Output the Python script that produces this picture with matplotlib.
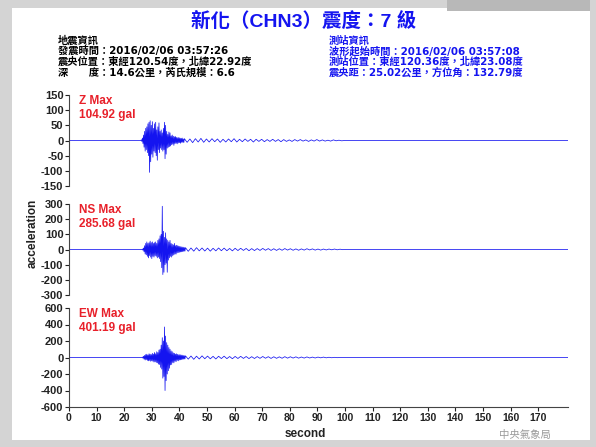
import numpy as np
import matplotlib.pyplot as plt
from matplotlib.patches import Rectangle

plt.rcParams['axes.unicode_minus'] = False

# strong-motion part, sampled every 0.2 s
z_t0 = 26.0
z_strong = [0, 2, -3, 8, -10, 18, -22, 30, -35, 40,
            -30, 45, -40, 55, -50, 60, -105, 65, -70, 50,
            -45, 62, -55, 40, -35, 55, -40, 60, -50, 35,
            -65, 45, -30, 58, -40, 30, -25, 35, -30, 25,
            -35, 40, -30, 60, -60, 50, -45, 30, -25, 20,
            -22, 28, -20, 25, -18, 15, -14, 18, -12, 14,
            -16, 12, -10, 13, -9, 10, -11, 9, -8, 10,
            -7, 8, -9, 7, -6, 8, -6, 5, -7, 6]
# coda, sampled every 1 s
z_coda = [-6, 5, -7, 6, -5, 7, -6, 5, -5, 6, -4, 5, -6, 4, -5, 5, -4, 6, -5, 4,
          -4, 5, -3, 4, -5, 4, -3, 4, -4, 3, -3, 4, -3, 3, -4, 3, -3, 2, -3, 3,
          -2, 3, -2, 2, -3, 2, -2, 3, -2, 2, -2, 1, -2, 2, -1, 1, -1, 0]

ns_t0 = 26.4
ns_strong = [0, 3, -5, 10, -15, 25, -30, 40, -35, 50,
             -45, 40, -55, 45, -40, 55, -50, 45, -60, 50,
             -45, 40, -50, 45, -40, 50, -45, 40, -55, 60,
             -50, 70, -60, 90, -80, 100, -120, 285, -165, 120,
             -150, 80, -100, 110, -90, 70, -150, 60, -70, 50,
             -55, 60, -45, 40, -50, 35, -40, 30, -35, 40,
             -30, 25, -30, 28, -22, 25, -20, 22, -18, 20,
             -16, 18, -15, 16, -14, 15, -12, 13, -11, 12]
ns_coda = [-12, 10, -11, 12, -9, 10, -10, 9, -11, 8, -9, 10, -8, 9, -8, 7, -9, 8, -7, 8,
           -6, 7, -8, 6, -7, 6, -6, 7, -5, 6, -6, 5, -6, 5, -5, 6, -4, 5, -5, 4,
           -5, 4, -4, 5, -3, 4, -4, 3, -4, 3, -3, 3, -2, 3, -2, 2, -1, 0]

ew_t0 = 26.4
ew_strong = [0, 5, -8, 15, -20, 25, -30, 35, -25, 40,
             -35, 30, -40, 45, -35, 40, -45, 35, -40, 50,
             -45, 40, -55, 60, -50, 45, -60, 70, -65, 60,
             -80, 90, -85, 100, -120, 150, -140, 240, -250, 200,
             -230, 370, -400, 260, -280, 180, -200, 150, -160, 120,
             -130, 100, -90, 80, -85, 70, -60, 55, -65, 50,
             -45, 40, -50, 45, -35, 38, -40, 32, -30, 35,
             -28, 30, -25, 28, -22, 25, -20, 22, -18, 20]
ew_coda = [-20, 18, -22, 16, -18, 20, -15, 17, -16, 14, -18, 15, -13, 16, -14, 12, -15, 13, -12, 14,
           -11, 12, -13, 10, -12, 11, -10, 12, -9, 10, -11, 9, -10, 8, -9, 10, -8, 9, -7, 8,
           -8, 6, -7, 7, -6, 5, -6, 5, -4, 5, -4, 3, -3, 2, -2, 0]

names = ['Z', 'NS', 'EW']
max_vals = ['104.92', '285.68', '401.19']
ylims = [150, 300, 600]
ysteps = [50, 100, 200]
xticks = list(range(0, 180, 10))
x_end = 180.8


def trace(t0, strong, coda):
    ts = t0 + 0.2 * np.arange(len(strong))
    tc = ts[-1] + 1.0 * np.arange(1, len(coda) + 1)
    t = np.concatenate([[0.0], ts, tc, [x_end]])
    v = np.concatenate([[0.0], strong, coda, [0.0]])
    return t, v


traces = [trace(z_t0, z_strong, z_coda),
          trace(ns_t0, ns_strong, ns_coda),
          trace(ew_t0, ew_strong, ew_coda)]

W, H = 596, 447
fig = plt.figure(figsize=(W / 100, H / 100), dpi=100)
fig.patch.set_facecolor('#d4d4d4')
fig.patches.append(Rectangle((12 / W, 1 - 440 / H), 578 / W, 432 / H,
                             transform=fig.transFigure, facecolor='white',
                             edgecolor='none', zorder=-2))
fig.patches.append(Rectangle((447 / W, 1 - 11 / H), 143 / W, 11 / H,
                             transform=fig.transFigure, facecolor='#b8b8b8',
                             edgecolor='none', zorder=-2))

# axes boxes in pixels: (top, bottom)
boxes = [(95, 186), (204, 295), (308, 407)]
left, right = 69, 568
num_font = ['Liberation Sans', 'Noto Sans CJK TC']
info_font = ['DejaVu Sans', 'Noto Sans CJK TC']
blue = '#1414f0'
red = '#e8202a'

for i, (top, bot) in enumerate(boxes):
    ax = fig.add_axes([left / W, 1 - bot / H, (right - left) / W, (bot - top) / H])
    ax.patch.set_alpha(0)
    t, v = traces[i]
    ax.plot(t, v, color=blue, lw=0.55)
    ax.set_xlim(0, x_end)
    ax.set_ylim(-ylims[i], ylims[i])
    ax.set_yticks(np.arange(-ylims[i], ylims[i] + 1, ysteps[i]))
    for s in ['top', 'right']:
        ax.spines[s].set_visible(False)
    ax.spines['left'].set_color('#444444')
    ax.tick_params(axis='y', direction='out', length=3, width=0.8, colors='#222222',
                   labelsize=8, pad=1)
    for lab in ax.get_yticklabels():
        lab.set_family(num_font)
        lab.set_fontweight('bold')
    if i < 2:
        ax.spines['bottom'].set_visible(False)
        ax.set_xticks([])
    else:
        ax.spines['bottom'].set_color('#444444')
        ax.set_xticks(xticks)
        ax.tick_params(axis='x', direction='out', length=3, width=0.8, colors='#222222',
                       labelsize=7.5, pad=1.5)
        for lab in ax.get_xticklabels():
            lab.set_family(num_font)
            lab.set_fontweight('bold')
    ax.text(10 / (right - left), 1.0, names[i] + ' Max\n' + max_vals[i] + ' gal',
            transform=ax.transAxes, color=red, fontsize=8.5, family=num_font,
            fontweight='bold', va='top', ha='left', linespacing=1.25)


def ftext(x, y, s, **kw):
    fig.text(x / W, 1 - y / H, s, **kw)


ftext(304, 21, '新化（CHN3）震度：7 級', ha='center', va='center', color=blue,
      fontsize=14, fontweight='bold', family=num_font)

left_info = ['地震資訊',
             '發震時間：2016/02/06 03:57:26',
             '震央位置：東經120.54度，北緯22.92度',
             '深　　度：14.6公里，芮氏規模：6.6']
right_info = ['測站資訊',
              '波形起始時間：2016/02/06 03:57:08',
              '測站位置：東經120.36度，北緯23.08度',
              '震央距：25.02公里，方位角：132.79度']
line_y = [40.5, 51.2, 61.9, 72.6]
for k in range(4):
    ftext(58, line_y[k], left_info[k], ha='left', va='center', color='black',
          fontsize=7.4, fontweight='bold', family=info_font)
    ftext(329, line_y[k], right_info[k], ha='left', va='center', color=blue,
          fontsize=7.4, fontweight='bold', family=info_font)

ftext(305, 434, 'second', ha='center', va='center', fontsize=8.5, fontweight='bold',
      family=num_font, color='#222222')
ftext(33, 233, 'acceleration', ha='center', va='center', rotation=90, fontsize=8.5,
      fontweight='bold', family=num_font, color='#222222')
ftext(525, 435, '中央氣象局', ha='center', va='center', fontsize=7.5,
      family=['Noto Sans CJK TC'], color='#9a9a9a')

fig.savefig('out.png', dpi=100, facecolor=fig.get_facecolor())
